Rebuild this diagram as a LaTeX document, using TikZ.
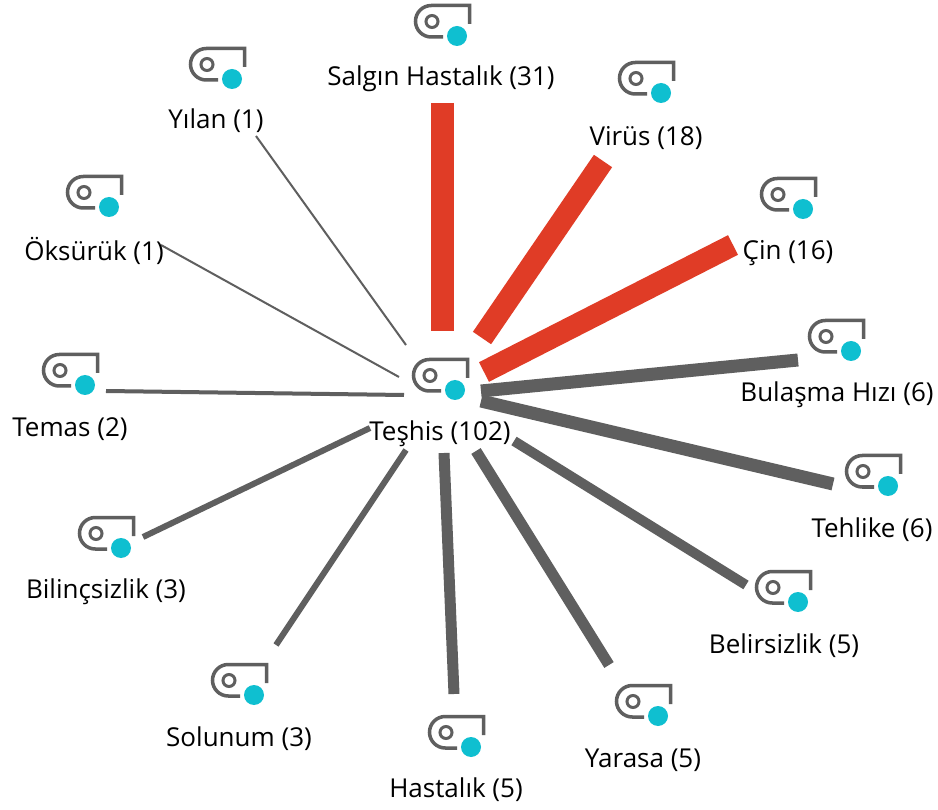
\documentclass[tikz,border=0pt]{standalone}
\usepackage{fontspec}
\setmainfont{Open Sans}
\definecolor{edgegray}{HTML}{5F5F5F}
\definecolor{edgered}{HTML}{E03C26}
\definecolor{iconteal}{HTML}{0FBFD0}
\tikzset{
  px/.style={x=1pt,y=-1pt},
  lab/.style={inner sep=0pt,text=black,font=\fontsize{26}{30}\selectfont,anchor=center},
  hot/.style={draw=edgered},
  cold/.style={draw=edgegray},
  tagline/.style={draw=edgegray,line width=3.5pt,line cap=butt},
  ringline/.style={draw=edgegray,line width=3pt},
  dot/.style={fill=iconteal,draw=none}
}
\newcommand{\tagicon}[3]{%
  \coordinate (#1) at (#2,#3);
  \begin{scope}[shift={(#1)}]
    \draw[tagline] (-14,1) -- (-25.75,1) arc[start angle=90,end angle=270,radius=15.75] -- (12.5,-30.5) -- (12.5,-12);
    \draw[ringline] (-25,-14.5) circle[radius=6];
    \fill[dot] (0,0) circle[radius=10];
  \end{scope}}
\newcommand{\linkedge}[6]{%
  \coordinate (#1a) at (#3,#4);
  \coordinate (#1b) at (#5,#6);
  \draw[#2] (#1a) -- (#1b);}
\begin{document}
\begin{tikzpicture}[px]
\useasboundingbox (0,0) rectangle (938,810);
\fill[white] (0,0) rectangle (938,810);
% connectors
\linkedge{salgin}{hot,line width=23pt}{442}{103}{442}{331}
\linkedge{virus}{hot,line width=22pt}{603}{161}{482}{338}
\linkedge{cin}{hot,line width=22pt}{733}{245}{484}{372}
\linkedge{bulasma}{cold,line width=13pt}{798}{360}{481}{391}
\linkedge{tehlike}{cold,line width=13pt}{833}{484}{481}{401}
\linkedge{belir}{cold,line width=10pt}{746}{585}{514}{441}
\linkedge{yarasa}{cold,line width=11pt}{609}{665}{476}{451}
\linkedge{hastalik}{cold,line width=11pt}{454}{694}{444}{453}
\linkedge{solunum}{cold,line width=6pt}{276}{645}{406}{450}
\linkedge{bilinc}{cold,line width=6pt}{143}{537}{370}{428}
\linkedge{temas}{cold,line width=4pt}{106}{391}{404}{395}
\linkedge{oksuruk}{cold,line width=2pt}{161}{245}{399}{377}
\linkedge{yilan}{cold,line width=2pt}{256}{136}{406}{345}
% icons
\tagicon{iSalgin}{457}{36}
\tagicon{iYilan}{232}{79}
\tagicon{iVirus}{661}{93}
\tagicon{iCin}{803}{209}
\tagicon{iOksuruk}{109}{207}
\tagicon{iBulasma}{851}{351}
\tagicon{iTemas}{85}{385}
\tagicon{iTeshis}{455}{390}
\tagicon{iTehlike}{888}{486}
\tagicon{iBilinc}{121}{548}
\tagicon{iBelir}{798}{602}
\tagicon{iSolunum}{254}{695}
\tagicon{iYarasa}{658}{716}
\tagicon{iHastalik}{471}{747}
% labels
\node[lab] (tSalgin) at (441,79) {Salgın Hastalık (31)};
\node[lab] (tYilan) at (216,121) {Yılan (1)};
\node[lab] (tVirus) at (646,138) {Virüs (18)};
\node[lab] (tCin) at (788,253) {Çin (16)};
\node[lab] (tOksuruk) at (94,251) {Öksürük (1)};
\node[lab] (tBulasma) at (837,395) {Bulaşma Hızı (6)};
\node[lab] (tTemas) at (70,429) {Temas (2)};
\node[lab] (tTeshis) at (440,434) {Teşhis (102)};
\node[lab] (tTehlike) at (872,530) {Tehlike (6)};
\node[lab] (tBilinc) at (106,592) {Bilinçsizlik (3)};
\node[lab] (tBelir) at (784,646) {Belirsizlik (5)};
\node[lab] (tSolunum) at (239,739) {Solunum (3)};
\node[lab] (tYarasa) at (643,760) {Yarasa (5)};
\node[lab] (tHastalik) at (456,790) {Hastalık (5)};
\end{tikzpicture}
\end{document}
